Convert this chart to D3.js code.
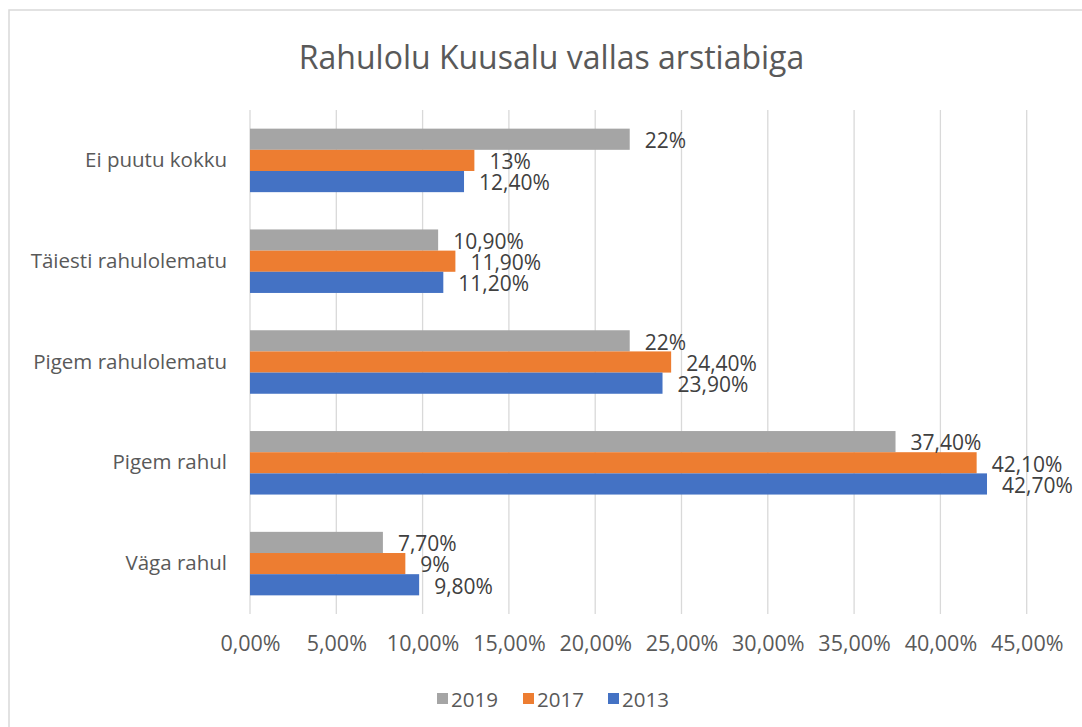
<!DOCTYPE html>
<html>
<head>
<meta charset="utf-8">
<script src="https://cdn.jsdelivr.net/npm/d3@7"></script>
<style>
  body { margin: 0; background: #fff; }
  svg text { font-family: "Open Sans", sans-serif; }
</style>
</head>
<body>
<div id="chart"></div>
<script>
// Chart data
var categories = ["Ei puutu kokku", "Täiesti rahulolematu", "Pigem rahulolematu", "Pigem rahul", "Väga rahul"];
var seriesNames = ["2019", "2017", "2013"];
var values2019 = [22, 10.9, 22, 37.4, 7.7];
var values2017 = [13, 11.9, 24.4, 42.1, 9];
var values2013 = [12.4, 11.2, 23.9, 42.7, 9.8];
var xTicks = [0, 5, 10, 15, 20, 25, 30, 35, 40, 45];
var colors = ["#a5a5a5", "#ed7d31", "#4472c4"];

var svgWidth = 1082;
var svgHeight = 727;

var plot = { left: 250, right: 1026.7, top: 110, bottom: 614 };

var svg = d3.select("#chart")
  .append("svg")
  .attr("width", svgWidth)
  .attr("height", svgHeight);

// outer frame (runs off the right and bottom of the picture)
svg.append("path")
  .attr("d", "M9,740 L9,10 L1100,10")
  .attr("fill", "none")
  .attr("stroke", "#d9d9d9")
  .attr("stroke-width", 1.5);

// cut-off text above the frame
svg.append("text")
  .attr("x", 494)
  .attr("y", -5)
  .attr("fill", "#2f5597")
  .style("font-size", "20px")
  .text("g");

// title
svg.append("text")
  .attr("x", 551.5)
  .attr("y", 69)
  .attr("text-anchor", "middle")
  .attr("fill", "#595959")
  .style("font-size", "32px")
  .text("Rahulolu Kuusalu vallas arstiabiga");

var x = d3.scaleLinear()
  .domain([0, 45])
  .range([plot.left, plot.right]);

var y = d3.scaleBand()
  .domain(categories)
  .range([plot.top, plot.bottom])
  .paddingInner(0.37)
  .paddingOuter(0.185);

var ySub = d3.scaleBand()
  .domain(seriesNames)
  .range([0, y.bandwidth()]);

// gridlines
svg.append("g")
  .selectAll("line")
  .data(xTicks)
  .enter()
  .append("line")
  .attr("x1", d => x(d))
  .attr("x2", d => x(d))
  .attr("y1", plot.top)
  .attr("y2", plot.bottom)
  .attr("stroke", "#d9d9d9")
  .attr("stroke-width", 1.3);

// x axis labels
var fmtTick = d => d3.format(".2f")(d).replace(".", ",") + "%";
var bottomAxis = d3.axisBottom(x).tickValues(xTicks).tickFormat(fmtTick).tickSize(0).tickPadding(0);
var gx = svg.append("g")
  .attr("transform", "translate(0, 636)")
  .call(bottomAxis);
gx.select(".domain").remove();
gx.selectAll("text")
  .attr("dy", "0.71em")
  .attr("fill", "#595959")
  .style("font-size", "21.5px")
  .style("font-family", "'Open Sans', sans-serif");

// category labels
var leftAxis = d3.axisLeft(y).tickSize(0).tickPadding(0);
var gy = svg.append("g")
  .attr("transform", "translate(227, 0)")
  .call(leftAxis);
gy.select(".domain").remove();
gy.selectAll("text")
  .attr("fill", "#595959")
  .style("font-size", "20.5px")
  .style("font-family", "'Open Sans', sans-serif");

// bars
var table = [];
categories.forEach(function(c, i) {
  table.push({ cat: c, series: "2019", value: values2019[i], color: colors[0] });
  table.push({ cat: c, series: "2017", value: values2017[i], color: colors[1] });
  table.push({ cat: c, series: "2013", value: values2013[i], color: colors[2] });
});

svg.append("g")
  .selectAll("rect")
  .data(table)
  .enter()
  .append("rect")
  .attr("x", x(0))
  .attr("y", d => y(d.cat) + ySub(d.series))
  .attr("width", d => x(d.value) - x(0))
  .attr("height", ySub.bandwidth())
  .attr("fill", d => d.color);

// data labels
var fmtLabel = v => (v % 1 === 0 ? v : v.toFixed(2).replace(".", ",")) + "%";
svg.append("g")
  .selectAll("text")
  .data(table)
  .enter()
  .append("text")
  .attr("x", d => x(d.value) + 15)
  .attr("y", d => y(d.cat) + ySub(d.series) + ySub.bandwidth() / 2 + 8.8)
  .attr("fill", "#404040")
  .style("font-size", "21px")
  .text(d => fmtLabel(d.value));

// legend
var legendX = [437, 523, 608];
var legend = svg.append("g")
  .selectAll("g")
  .data(seriesNames)
  .enter()
  .append("g")
  .attr("transform", (d, i) => `translate(${legendX[i]}, 699)`);
legend.append("rect")
  .attr("x", 0)
  .attr("y", -6)
  .attr("width", 11)
  .attr("height", 11)
  .attr("fill", (d, i) => colors[i]);
legend.append("text")
  .attr("x", 14)
  .attr("y", 7.5)
  .attr("fill", "#595959")
  .style("font-size", "20.5px")
  .text(d => d);
</script>
</body>
</html>
